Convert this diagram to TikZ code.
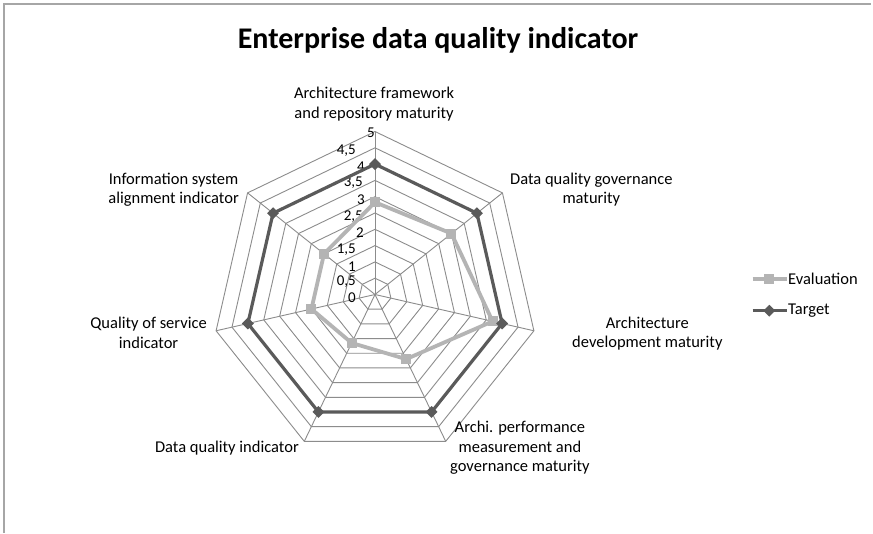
\documentclass[tikz,border=0pt]{standalone}
\usepackage{fontspec}
\setmainfont{Carlito}
\usetikzlibrary{shapes.geometric}
\definecolor{gridc}{HTML}{8C8C8C}
\definecolor{evalc}{HTML}{B4B4B4}
\definecolor{targc}{HTML}{5A5A5A}
\definecolor{framec}{HTML}{A6A6A6}
\tikzset{
  gridline/.style={draw=gridc, line width=0.9pt},
  evalline/.style={draw=evalc, line width=3.8pt, line join=round},
  targline/.style={draw=targc, line width=3.2pt, line join=round},
  evalmark/.style={rectangle, fill=evalc, inner sep=0pt, minimum size=10pt},
  targmark/.style={diamond, fill=targc, inner sep=0pt, minimum size=12pt},
  lbl/.style={font=\fontsize{16.5}{19.5}\selectfont, align=center, inner sep=0pt},
  ticklbl/.style={font=\fontsize{15}{17}\selectfont, inner sep=0pt, anchor=east},
  framel/.style={draw=framec, line width=1.5pt}
}
\begin{document}
\begin{tikzpicture}[x=1pt,y=-1pt]
\useasboundingbox (0,0) rectangle (873,533);
\fill[white] (0,0) rectangle (873,533);
\draw[framel] (4,533) -- (4,4) -- (871,4);
% title
\node[font=\fontsize{30}{34}\selectfont\bfseries, inner sep=0pt] (title) at (438,40) {Enterprise data quality indicator};
% center
\coordinate (C) at (375,294.5);
% rings
\foreach \i in {1,...,10}{
  \pgfmathsetmacro\r{\i*16.3}
  \draw[gridline] ({375+\r*cos(90)},{294.5-\r*sin(90)})
    \foreach \k in {1,...,6}{ -- ({375+\r*cos(90-\k*360/7)},{294.5-\r*sin(90-\k*360/7)}) } -- cycle;
}
% spokes
\foreach \k in {0,...,6}{
  \coordinate (s\k) at ({375+163*cos(90-\k*360/7)},{294.5-163*sin(90-\k*360/7)});
  \draw[gridline] (C) -- (s\k);
}
% tick labels
\node[ticklbl] (k0) at (356,298) {0};
\node[ticklbl] (k05) at (356,282) {0,5};
\node[ticklbl] (k1) at (356,267) {1};
\node[ticklbl] (k15) at (356,250) {1,5};
\node[ticklbl] (k2) at (364,233) {2};
\node[ticklbl] (k25) at (363,217) {2,5};
\node[ticklbl] (k3) at (365,200) {3};
\node[ticklbl] (k35) at (363,183) {3,5};
\node[ticklbl] (k4) at (365,167) {4};
\node[ticklbl] (k45) at (356,151) {4,5};
\node[ticklbl] (k5) at (375,133) {5};
% data
\foreach \v [count=\k from 0] in {2.83,3.0,3.7,2.2,1.65,2.0,2.0}{
  \coordinate (e\k) at ({375+\v*32.6*cos(90-\k*360/7)},{294.5-\v*32.6*sin(90-\k*360/7)});
}
\foreach \v [count=\k from 0] in {4,4,4,4,4,4,4}{
  \coordinate (t\k) at ({375+\v*32.6*cos(90-\k*360/7)},{294.5-\v*32.6*sin(90-\k*360/7)});
}
\draw[evalline] (e0) -- (e1) -- (e2) -- (e3) -- (e4) -- (e5) -- (e6) -- cycle;
\foreach \k in {0,...,6}{ \node[evalmark] (em\k) at (e\k) {}; }
\draw[targline] (t0) -- (t1) -- (t2) -- (t3) -- (t4) -- (t5) -- (t6) -- cycle;
\foreach \k in {0,...,6}{ \node[targmark] (tm\k) at (t\k) {}; }
% axis labels
\node[lbl] (l0) at (374,104) {Architecture framework\\and repository maturity};
\node[lbl, anchor=west] (l1) at (510,189.5) {Data quality governance\\maturity};
\node[lbl, anchor=west] (l2) at (572,333.5) {Architecture\\development maturity};
\node[lbl, anchor=west] (l3) at (450,448) {Archi. performance\\measurement and\\governance maturity};
\node[lbl, anchor=east] (l4) at (299,448) {Data quality indicator};
\node[lbl, anchor=east] (l5) at (207,333) {Quality of service\\indicator};
\node[lbl, anchor=east] (l6) at (239,189.5) {Information system\\alignment indicator};
% legend
\coordinate (la1) at (752.7,279);
\coordinate (lb1) at (786.7,279);
\draw[evalline, line width=3.4pt] (la1) -- (lb1);
\node[evalmark] (lm1) at (769.3,279) {};
\node[lbl, anchor=west] (ltx1) at (788,279) {Evaluation};
\coordinate (la2) at (752.7,310.7);
\coordinate (lb2) at (786.7,310.7);
\draw[targline] (la2) -- (lb2);
\node[targmark] (lm2) at (769.3,310.7) {};
\node[lbl, anchor=west] (ltx2) at (788,310.7) {Target};
\end{tikzpicture}
\end{document}
